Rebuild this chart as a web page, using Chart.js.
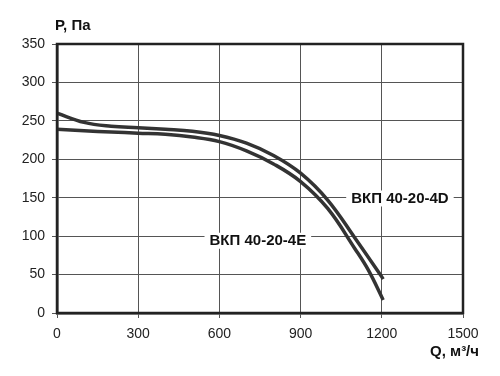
<!DOCTYPE html>
<html>
<head>
<meta charset="utf-8">
<script src="https://cdn.jsdelivr.net/npm/chart.js@4"></script>
<style>
  html, body { margin: 0; padding: 0; background: #fff; }
  #wrap { width: 500px; height: 376px; }
</style>
</head>
<body>
<div id="wrap"><canvas id="fanChart"></canvas></div>
<script>
  // fan curves
  const flow4D = [0, 100, 200, 300, 400, 500, 600, 700, 800, 900, 1000, 1100, 1200, 1205];
  const pres4D = [260, 248, 243, 241, 239, 236.5, 231, 221, 205, 182, 147, 98, 47, 44];
  const flow4E = [0, 100, 200, 300, 400, 500, 600, 700, 800, 900, 1000, 1100, 1150, 1205];
  const pres4E = [239, 237, 235.5, 234, 232.5, 229, 223, 211, 194, 171, 136, 84, 56, 17];

  const seriesNames = ['ВКП 40-20-4D', 'ВКП 40-20-4E'];
  const xTitle = 'Q, м³/ч';
  const yTitle = 'P, Па';

  const FONT = '"Liberation Sans", Arial, sans-serif';
  const lineColor = '#333';

  function toPoints(xs, ys) {
    return xs.map((x, i) => ({ x: x, y: ys[i] }));
  }

  const curveLabels = {
    id: 'curveLabels',
    afterDraw(chart) {
      const { ctx, chartArea, scales } = chart;
      const xs = scales.x, ys = scales.y;

      // outer frame
      ctx.save();
      ctx.strokeStyle = '#222';
      ctx.lineWidth = 2.5;
      ctx.strokeRect(chartArea.left, chartArea.top,
        chartArea.right - chartArea.left, chartArea.bottom - chartArea.top);

      ctx.font = 'bold 15px ' + FONT;
      ctx.textBaseline = 'middle';
      ctx.textAlign = 'center';
      const labels = [
        { text: seriesNames[0], q: 1267, p: 149 },
        { text: seriesNames[1], q: 742, p: 94 }
      ];
      labels.forEach(l => {
        const cx = xs.getPixelForValue(l.q);
        const cy = ys.getPixelForValue(l.p);
        const w = ctx.measureText(l.text).width;
        ctx.fillStyle = '#fff';
        ctx.fillRect(cx - w / 2 - 5, cy - 8, w + 10, 16);
        ctx.fillStyle = '#111';
        ctx.fillText(l.text, cx, cy);
      });

      // axis titles
      ctx.textAlign = 'left';
      ctx.fillText(yTitle, chartArea.left - 2, 26);
      ctx.textAlign = 'right';
      ctx.fillText(xTitle, 479, 352);
      ctx.restore();
    }
  };

  new Chart(document.getElementById('fanChart'), {
    type: 'scatter',
    data: {
      datasets: [
        {
          label: seriesNames[0],
          data: toPoints(flow4D, pres4D),
          showLine: true,
          borderColor: lineColor,
          borderWidth: 3.5,
          pointRadius: 0,
          tension: 0.4
        },
        {
          label: seriesNames[1],
          data: toPoints(flow4E, pres4E),
          showLine: true,
          borderColor: lineColor,
          borderWidth: 3.5,
          pointRadius: 0,
          tension: 0.4
        }
      ]
    },
    options: {
      responsive: true,
      maintainAspectRatio: false,
      animation: false,
      layout: { padding: { left: 0, right: 37, top: 44, bottom: 0 } },
      plugins: {
        legend: { display: false },
        tooltip: { enabled: false }
      },
      scales: {
        x: {
          type: 'linear',
          min: 0,
          max: 1500,
          afterFit: s => { s.height = 63; },
          ticks: {
            stepSize: 300,
            color: '#222',
            padding: 8,
            maxRotation: 0,
            font: { family: FONT, size: 14 },
            callback: v => String(v)
          },
          grid: { color: '#555', lineWidth: 1, tickLength: 5, tickColor: '#555' },
          border: { display: true, color: '#222', width: 2.5 }
        },
        y: {
          min: 0,
          max: 350,
          afterFit: s => { s.width = 57; },
          ticks: {
            stepSize: 50,
            color: '#222',
            padding: 7,
            font: { family: FONT, size: 14 },
            callback: v => String(v)
          },
          grid: { color: '#555', lineWidth: 1, tickLength: 5, tickColor: '#555' },
          border: { display: true, color: '#222', width: 2.5 }
        }
      }
    },
    plugins: [curveLabels]
  });
</script>
</body>
</html>
